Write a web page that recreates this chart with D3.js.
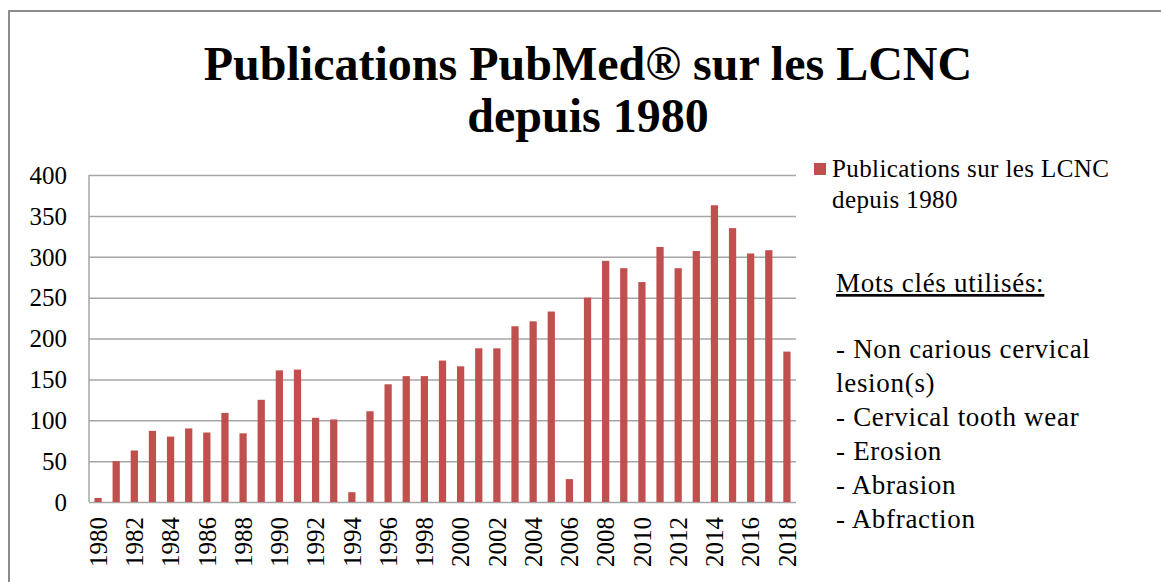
<!DOCTYPE html>
<html>
<head>
<meta charset="utf-8">
<script src="https://cdn.jsdelivr.net/npm/d3@7"></script>
<style>
  body { margin: 0; background: #fff; }
  text { font-family: "Times New Roman", "Liberation Serif", serif; fill: #000; }
</style>
</head>
<body>
<div id="chart"></div>
<script>
const years = d3.range(1980, 2019).map(String);
const publications = [5, 50, 63, 87, 80, 90, 85, 109, 84, 125,
  161, 162, 103, 101, 12, 111, 144, 154, 154, 173,
  166, 188, 188, 215, 221, 233, 28, 250, 295, 286,
  269, 312, 286, 307, 363, 335, 304, 308, 184];
const yTicks = [0, 50, 100, 150, 200, 250, 300, 350, 400];
const titleLines = ["Publications PubMed® sur les LCNC", "depuis 1980"];
const legendLines = ["Publications sur les LCNC", "depuis 1980"];
const keywordsTitle = "Mots clés utilisés:";
const keywords = ["- Non carious cervical", "lesion(s)", "- Cervical tooth wear",
  "- Erosion", "- Abrasion", "- Abfraction"];

const W = 1161, H = 582;
const plot = {left: 89, right: 796, top: 175, bottom: 502};
const barColor = "#C0504D", gridColor = "#A6A6A6";

const svg = d3.select("#chart").append("svg")
    .attr("width", W).attr("height", H);

// outer chart frame (runs off the right and bottom edges)
svg.append("rect")
    .attr("x", 9).attr("y", 11).attr("width", W + 20).attr("height", H + 20)
    .attr("fill", "none").attr("stroke", "#8C8C8C").attr("stroke-width", 2);

svg.append("text")
    .attr("x", 588).attr("y", 80)
    .attr("text-anchor", "middle")
    .style("font-size", "48px").style("font-weight", "bold")
    .selectAll("tspan").data(titleLines).enter().append("tspan")
    .attr("x", 588).attr("dy", (d, i) => i ? 52 : 0)
    .text(d => d);

let x = d3.scaleBand()
    .domain(years)
    .range([plot.left, plot.right])
    .paddingInner(0.6)
    .paddingOuter(0.3);

let y = d3.scaleLinear()
    .domain([0, 400])
    .range([plot.bottom, plot.top]);

// gridlines
svg.append("g")
    .attr("transform", "translate(" + plot.left + ",0)")
    .call(d3.axisLeft(y).tickValues(yTicks).tickSize(-(plot.right - plot.left)).tickFormat(""))
    .call(g => g.select(".domain").remove())
    .selectAll("line").attr("stroke", gridColor).attr("stroke-width", 1.5);

// left axis line
svg.append("line")
    .attr("x1", plot.left).attr("x2", plot.left)
    .attr("y1", plot.top).attr("y2", plot.bottom)
    .attr("stroke", gridColor).attr("stroke-width", 1.5);

// y labels
svg.append("g")
    .selectAll("text").data(yTicks).enter().append("text")
    .attr("x", 67).attr("y", d => y(d)).attr("dy", "0.35em")
    .attr("text-anchor", "end")
    .style("font-size", "25px")
    .text(d => d);

svg.selectAll(".bar").data(publications).enter().append("rect")
    .attr("class", "bar")
    .attr("x", (d, i) => x(years[i]))
    .attr("width", x.bandwidth())
    .attr("y", d => y(d))
    .attr("height", d => y(0) - y(d))
    .attr("fill", barColor);

// x labels, every other year
svg.append("g")
    .selectAll("text").data(years.filter((d, i) => i % 2 === 0)).enter().append("text")
    .attr("transform", d => "translate(" + (x(d) + x.bandwidth() / 2) + ",517) rotate(-90)")
    .attr("dy", "0.35em")
    .attr("text-anchor", "end")
    .style("font-size", "25px")
    .text(d => d);

// legend
svg.append("rect")
    .attr("x", 814).attr("y", 163).attr("width", 12).attr("height", 12)
    .attr("fill", barColor);

svg.append("text")
    .style("font-size", "25px").style("letter-spacing", "0.4px")
    .selectAll("tspan").data(legendLines).enter().append("tspan")
    .attr("x", 832).attr("y", (d, i) => 177 + i * 31)
    .text(d => d);

svg.append("text")
    .attr("x", 836).attr("y", 292)
    .style("font-size", "27px").style("letter-spacing", "0.7px")
    .style("text-decoration", "underline")
    .text(keywordsTitle);

svg.append("text")
    .style("font-size", "27px").style("letter-spacing", "0.7px")
    .selectAll("tspan").data(keywords).enter().append("tspan")
    .attr("x", 836).attr("y", (d, i) => 358 + i * 34)
    .text(d => d);
</script>
</body>
</html>
